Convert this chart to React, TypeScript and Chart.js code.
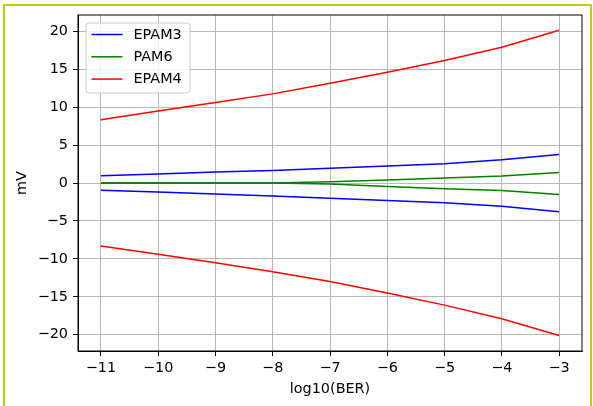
import React, { useEffect, useRef } from "react";
import { Chart, registerables } from "chart.js";

Chart.register(...registerables);

const xValues = [-11, -10, -9, -8, -7, -6, -5, -4, -3];
const xTicks = [-11, -10, -9, -8, -7, -6, -5, -4, -3];
const yTicks = [-20, -15, -10, -5, 0, 5, 10, 15, 20];

const epam3Upper = [0.95, 1.2, 1.45, 1.65, 1.95, 2.25, 2.55, 3.05, 3.75];
const epam3Lower = [-0.95, -1.2, -1.45, -1.7, -2.0, -2.3, -2.6, -3.05, -3.8];
const pam6Upper = [0, 0, 0, 0, 0.15, 0.4, 0.65, 0.92, 1.4];
const pam6Lower = [0, 0, 0, 0, -0.12, -0.45, -0.75, -1.0, -1.5];
const epam4Upper = [8.35, 9.5, 10.6, 11.75, 13.15, 14.6, 16.15, 17.9, 20.15];
const epam4Lower = [-8.3, -9.4, -10.5, -11.7, -13.0, -14.5, -16.1, -17.9, -20.1];

const seriesNames = ["EPAM3", "PAM6", "EPAM4"];
const seriesColors = ["#0000ff", "#008000", "#ff0000"];

const FONT = "DejaVu Sans";
const FSIZE = 14.4;

const fmt = (v: number) => (v < 0 ? "\u2212" + Math.abs(v) : String(v));

const pts = (ys: number[]) => xValues.map((x, i) => ({ x, y: ys[i] }));

const framePlugin = {
  id: "frameAndLegend",
  afterDatasetsDraw(chart: any) {
    const { ctx, chartArea } = chart;
    const { left, right, top, bottom } = chartArea;
    ctx.save();
    ctx.strokeStyle = "#000";
    ctx.lineWidth = 1;
    ctx.strokeRect(left, top, right - left, bottom - top);
    const bx = left + 8;
    const by = top + 8;
    const bw = 104;
    const bh = 70;
    const r = 3;
    ctx.beginPath();
    ctx.moveTo(bx + r, by);
    ctx.lineTo(bx + bw - r, by);
    ctx.arcTo(bx + bw, by, bx + bw, by + r, r);
    ctx.lineTo(bx + bw, by + bh - r);
    ctx.arcTo(bx + bw, by + bh, bx + bw - r, by + bh, r);
    ctx.lineTo(bx + r, by + bh);
    ctx.arcTo(bx, by + bh, bx, by + bh - r, r);
    ctx.lineTo(bx, by + r);
    ctx.arcTo(bx, by, bx + r, by, r);
    ctx.closePath();
    ctx.fillStyle = "rgba(255,255,255,0.8)";
    ctx.fill();
    ctx.strokeStyle = "#cccccc";
    ctx.lineWidth = 1;
    ctx.stroke();
    ctx.font = `${FSIZE}px "${FONT}"`;
    ctx.textBaseline = "middle";
    ctx.textAlign = "left";
    seriesNames.forEach((name, i) => {
      const y = by + 11.5 + i * 22.3;
      ctx.beginPath();
      ctx.moveTo(bx + 5.5, y);
      ctx.lineTo(bx + 36.5, y);
      ctx.strokeStyle = seriesColors[i];
      ctx.lineWidth = 1.5;
      ctx.stroke();
      ctx.fillStyle = "#000";
      ctx.fillText(name, bx + 47.5, y + 0.5);
    });
    ctx.restore();
  },
};

export default function App() {
  const ref = useRef<HTMLCanvasElement | null>(null);
  useEffect(() => {
    if (!ref.current) return;
    const mk = (ys: number[], idx: number, label: string) => ({
      label,
      data: pts(ys),
      borderColor: seriesColors[idx],
      backgroundColor: seriesColors[idx],
      borderWidth: 1.5,
      pointRadius: 0,
      tension: 0,
      fill: false,
    });
    const chart = new Chart(ref.current, {
      type: "line",
      data: {
        datasets: [
          mk(epam3Upper, 0, seriesNames[0]),
          mk(epam3Lower, 0, ""),
          mk(pam6Upper, 1, seriesNames[1]),
          mk(pam6Lower, 1, ""),
          mk(epam4Upper, 2, seriesNames[2]),
          mk(epam4Lower, 2, ""),
        ],
      },
      options: {
        animation: false,
        responsive: false,
        maintainAspectRatio: false,
        layout: { padding: { left: 0, top: 15, right: 11, bottom: 0 } },
        plugins: {
          legend: { display: false },
          tooltip: { enabled: false },
        },
        scales: {
          x: {
            type: "linear",
            min: -11.4,
            max: -2.6,
            afterBuildTicks: (s: any) => {
              s.ticks = xTicks.map((v) => ({ value: v }));
            },
            afterFit: (s: any) => {
              s.height = 55;
            },
            grid: {
              color: "#b8b8b8",
              lineWidth: 1,
              tickColor: "#000",
              tickLength: 5,
            },
            border: { color: "#000", width: 1 },
            ticks: {
              color: "#000",
              font: { family: FONT, size: FSIZE },
              padding: 4,
              maxRotation: 0,
              autoSkip: false,
              callback: (v: any) => fmt(Number(v)),
            },
            title: {
              display: true,
              text: "log10(BER)",
              color: "#000",
              font: { family: FONT, size: FSIZE },
              padding: { top: 0, bottom: 8 },
            },
          },
          y: {
            type: "linear",
            min: -22.15,
            max: 22.15,
            afterBuildTicks: (s: any) => {
              s.ticks = yTicks.map((v) => ({ value: v }));
            },
            afterFit: (s: any) => {
              s.width = 78;
            },
            grid: {
              color: "#b8b8b8",
              lineWidth: 1,
              tickColor: "#000",
              tickLength: 5,
            },
            border: { color: "#000", width: 1 },
            ticks: {
              color: "#000",
              font: { family: FONT, size: FSIZE },
              padding: 5,
              autoSkip: false,
              callback: (v: any) => fmt(Number(v)),
            },
            title: {
              display: true,
              text: "mV",
              color: "#000",
              font: { family: FONT, size: FSIZE },
              padding: { top: 14, bottom: 0 },
            },
          },
        },
      },
      plugins: [framePlugin],
    });
    return () => chart.destroy();
  }, []);

  return (
    <div
      style={{
        position: "fixed",
        left: 0,
        top: 0,
        width: 593,
        height: 406,
        overflow: "hidden",
        background: "#fff",
      }}
    >
      <canvas
        ref={ref}
        width={593}
        height={406}
        style={{ position: "absolute", left: 0, top: 0, width: 593, height: 406 }}
      />
      <div
        style={{
          position: "absolute",
          left: 3,
          top: 4,
          width: 589,
          height: 430,
          boxSizing: "border-box",
          border: "2px solid #bcd200",
          pointerEvents: "none",
        }}
      />
    </div>
  );
}
